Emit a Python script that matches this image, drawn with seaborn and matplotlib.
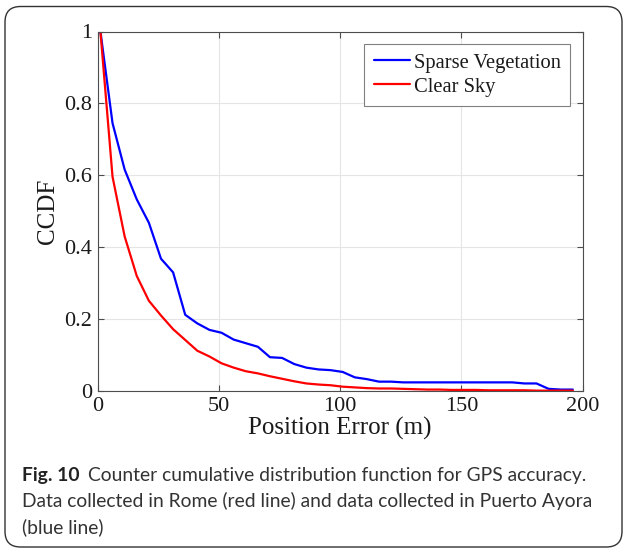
import numpy as np
import pandas as pd
import matplotlib
matplotlib.use("Agg")
import matplotlib.pyplot as plt
from matplotlib.patches import FancyBboxPatch
import seaborn as sns

# position error (m) at which the CCDF was sampled
position_error = [1, 6, 11, 16, 21, 26, 31, 36, 41, 46,
                  51, 56, 61, 66, 71, 76, 81, 86, 91, 96,
                  101, 106, 111, 116, 121, 126, 131, 136, 141, 146,
                  151, 156, 161, 166, 171, 176, 181, 186, 191, 196]

# Puerto Ayora (blue)
sparse_vegetation = [1.0, 0.745, 0.616, 0.533, 0.468, 0.368, 0.330, 0.212, 0.188, 0.170,
                     0.162, 0.143, 0.133, 0.123, 0.094, 0.092, 0.075, 0.065, 0.060, 0.058,
                     0.053, 0.038, 0.033, 0.026, 0.026, 0.024, 0.024, 0.024, 0.024, 0.024,
                     0.024, 0.024, 0.024, 0.024, 0.024, 0.021, 0.021, 0.006, 0.004, 0.004]

# Rome (red)
clear_sky = [1.0, 0.596, 0.430, 0.320, 0.251, 0.210, 0.172, 0.142, 0.112, 0.096,
             0.077, 0.065, 0.055, 0.049, 0.041, 0.034, 0.027, 0.021, 0.018, 0.016,
             0.012, 0.010, 0.008, 0.007, 0.007, 0.006, 0.005, 0.004, 0.004, 0.003,
             0.003, 0.003, 0.002, 0.002, 0.002, 0.002, 0.001, 0.001, 0.001, 0.001]

series_names = ["Sparse Vegetation", "Clear Sky"]
x_ticks = [0, 50, 100, 150, 200]
y_ticks = [0, 0.2, 0.4, 0.6, 0.8, 1]
y_tick_labels = ["0", "0.2", "0.4", "0.6", "0.8", "1"]

caption_bold = "Fig. 10"
caption_lines = ["Counter cumulative distribution function for GPS accuracy.",
                 "Data collected in Rome (red line) and data collected in Puerto Ayora",
                 "(blue line)"]

df = pd.concat([
    pd.DataFrame({"err": position_error, "ccdf": sparse_vegetation, "set": series_names[0]}),
    pd.DataFrame({"err": position_error, "ccdf": clear_sky, "set": series_names[1]}),
])

sns.set_style("whitegrid")
plt.rcParams["font.family"] = ["Liberation Serif", "DejaVu Serif"]

fig = plt.figure(figsize=(6.24, 5.49), dpi=100)
ax = fig.add_axes([98 / 624, 1 - 391 / 549, (582.5 - 98) / 624, (391 - 31.5) / 549])

sns.lineplot(data=df, x="err", y="ccdf", hue="set", palette=["#0000ff", "#ff0000"],
             linewidth=1.6, ax=ax)

ax.set_xlim(0, 200)
ax.set_ylim(0, 1)
ax.set_xticks(x_ticks)
ax.set_yticks(y_ticks)
ax.set_yticklabels(y_tick_labels)
ax.grid(True, color="#e5e5e5", linewidth=0.8)
for s in ax.spines.values():
    s.set_visible(True)
    s.set_color("#4d4d4d")
    s.set_linewidth(0.8)
ax.tick_params(direction="in", length=4, width=0.8, color="#4d4d4d",
               top=True, right=True, bottom=True, left=True,
               labelsize=16, labelcolor="#1a1a1a", pad=4)
ax.set_xlabel("Position Error (m)", fontsize=18, color="#1a1a1a", labelpad=1)
ax.set_ylabel("CCDF", fontsize=18, color="#1a1a1a", labelpad=4)

leg = ax.legend(loc="upper right", bbox_to_anchor=(570 / 624, 1 - 44 / 549),
                bbox_transform=fig.transFigure, fontsize=14.8, frameon=True,
                fancybox=False, framealpha=1, edgecolor="#808080",
                handlelength=1.75, handletextpad=0.2, labelspacing=0.22,
                borderpad=0.45, borderaxespad=0)
leg.get_frame().set_linewidth(0.8)
for t in leg.get_texts():
    t.set_color("#1a1a1a")

# rounded frame around the figure
frame = FancyBboxPatch((5 / 624, 1 - 547 / 549), (622 - 5) / 624, (547 - 6.5) / 549,
                       boxstyle="round,pad=0,rounding_size=0.025",
                       transform=fig.transFigure, facecolor="none",
                       edgecolor="#333333", linewidth=1.0, mutation_aspect=624 / 549)
fig.patches.append(frame)

# caption: size chosen so the second line fills the same width as in the paper
cap_font = ["Lato", "DejaVu Sans"]
cap_color = "#333333"
renderer = fig.canvas.get_renderer()
probe = fig.text(0, 0, caption_lines[1], fontsize=14, family=cap_font)
w = probe.get_window_extent(renderer).width
probe.remove()
cap_size = 14 * 574 / w

bold = fig.text(22 / 624, 1 - 481.5 / 549, caption_bold, fontsize=cap_size, fontweight="bold",
                family=cap_font, color="#222222", va="baseline", ha="left")
ax.annotate(caption_lines[0],
            xy=(1, 0), xycoords=bold, xytext=(6, 0), textcoords="offset points",
            fontsize=cap_size, family=cap_font, color=cap_color, va="bottom", ha="left",
            annotation_clip=False)
fig.text(22 / 624, 1 - 507 / 549, caption_lines[1],
         fontsize=cap_size, family=cap_font, color=cap_color, va="baseline", ha="left")
fig.text(22 / 624, 1 - 533 / 549, caption_lines[2],
         fontsize=cap_size, family=cap_font, color=cap_color, va="baseline", ha="left")

fig.savefig("out.png", dpi=100)
